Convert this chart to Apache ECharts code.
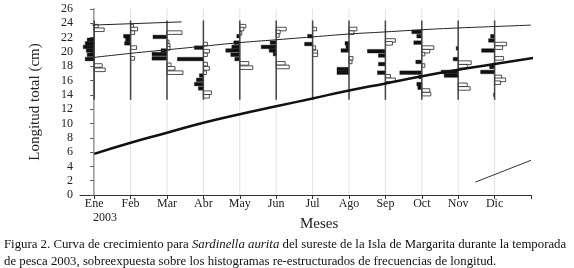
<!DOCTYPE html>
<html>
<head>
<meta charset="utf-8">
<script src="https://cdn.jsdelivr.net/npm/echarts@6/dist/echarts.min.js"></script>
<style>
  html, body { margin: 0; padding: 0; background: #fff; }
  #chart { width: 574px; height: 268px; }
</style>
</head>
<body>
<div id="chart"></div>
<script>
// meses (x = índice del mes, Ene = 0)
const months = ["Ene", "Feb", "Mar", "Abr", "May", "Jun", "Jul", "Ago", "Sep", "Oct", "Nov", "Dic"];
const monthTicks = [0, 1, 2, 3, 4, 5, 6, 7, 8, 9, 10, 11, 12];

// histogramas re-estructurados: [mes, centro de clase (cm), frecuencia]
// negros (picos, hacia la izquierda)
const blackBins = [
  [0, 21.7, 7], [0, 21.2, 9], [0, 20.7, 11], [0, 20.2, 8], [0, 19.6, 7], [0, 19.0, 9],
  [1, 22.2, 7], [1, 21.7, 5], [1, 21.2, 6],
  [2, 22.1, 14], [2, 20.2, 6], [2, 19.7, 15], [2, 19.1, 15],
  [3, 20.6, 9], [3, 19.0, 26], [3, 16.7, 4], [3, 16.1, 7], [3, 15.5, 9], [3, 14.9, 5],
  [4, 22.2, 3], [4, 21.3, 6], [4, 20.7, 8], [4, 20.2, 14], [4, 19.6, 9], [4, 19.0, 5],
  [5, 21.3, 6], [5, 20.7, 15], [5, 20.2, 7], [5, 19.7, 3],
  [6, 22.2, 5], [6, 21.1, 8],
  [7, 21.2, 4], [7, 20.7, 3], [7, 20.2, 8], [7, 17.6, 12], [7, 17.1, 12],
  [8, 20.1, 18], [8, 19.5, 7], [8, 18.3, 7], [8, 17.1, 8],
  [9, 22.8, 10], [9, 22.2, 5], [9, 21.3, 8], [9, 18.6, 6], [9, 17.1, 22], [9, 16.5, 3], [9, 15.5, 5], [9, 15.0, 4],
  [10, 20.5, 2], [10, 19.0, 5], [10, 17.2, 17], [10, 16.7, 14],
  [11, 22.2, 4], [11, 21.6, 6], [11, 20.2, 13], [11, 17.9, 5], [11, 17.2, 14], [11, 14.0, 1]
];
// blancos (hacia la derecha)
const whiteBins = [
  [0, 23.6, 4], [0, 23.1, 10], [0, 18.1, 8], [0, 17.5, 11],
  [1, 23.6, 3], [1, 23.2, 7], [1, 22.7, 4], [1, 20.6, 6], [1, 19.1, 4],
  [2, 22.7, 15], [2, 21.4, 2], [2, 20.9, 3], [2, 20.5, 3], [2, 18.2, 4], [2, 17.7, 8], [2, 17.1, 16],
  [3, 21.1, 4], [3, 20.1, 6], [3, 19.6, 4], [3, 18.3, 4], [3, 17.7, 6], [3, 17.1, 3], [3, 14.3, 8], [3, 13.8, 6],
  [4, 23.6, 6], [4, 23.2, 4], [4, 22.6, 2], [4, 18.4, 9], [4, 17.8, 13],
  [5, 23.2, 10], [5, 22.8, 4], [5, 22.3, 3], [5, 18.4, 9], [5, 17.9, 13],
  [6, 23.2, 4], [6, 20.6, 3], [6, 20.0, 5], [6, 19.6, 5],
  [7, 23.2, 8], [7, 22.7, 5], [7, 19.1, 4], [7, 18.6, 3],
  [8, 21.6, 10], [8, 21.2, 7], [8, 16.6, 5], [8, 16.1, 10],
  [9, 20.6, 12], [9, 20.1, 8], [9, 19.7, 3], [9, 18.1, 3], [9, 14.6, 8], [9, 14.1, 9],
  [10, 18.5, 13], [10, 18.0, 9], [10, 15.4, 9], [10, 14.9, 12],
  [11, 21.1, 12], [11, 20.6, 8], [11, 19.1, 9], [11, 16.5, 7], [11, 16.1, 11], [11, 15.7, 6]
];
// extremos de la línea base de cada histograma (cm)
const baseFrom = 13.3;
const baseTo = 24.4;

// curvas de crecimiento: [mes, longitud (cm)]
const growthMain = [[0, 5.75], [1, 7.3], [2, 8.7], [3, 10.1], [4, 11.3], [5, 12.4], [6, 13.5],
  [7, 14.6], [8, 15.6], [9, 16.6], [10, 17.5], [11, 18.3], [12.1, 19.2]];
const growthUpper = [[-0.15, 19.15], [1, 19.8], [2, 20.3], [3, 20.8], [4, 21.3], [5, 21.7], [6, 22.1],
  [7, 22.5], [8, 22.8], [9, 23.1], [10, 23.35], [11, 23.55], [12, 23.75]];
const growthTop = [[-0.05, 23.75], [2.4, 24.2]];
const growthBottom = [[10.47, 1.8], [12, 4.85]];

const BIN = 0.5;           // alto de clase (cm)
const FREQ_UNIT = 1 / 36.4; // frecuencia -> fracción de mes
const serif = "Liberation Serif";

const chart = echarts.init(document.getElementById("chart"));

function histItem(side) {
  return function (params, api) {
    const m = api.value(0), c = api.value(1), f = api.value(2);
    const a = api.coord([m, c + BIN / 2]);
    const b = api.coord([m + side * f * FREQ_UNIT, c - BIN / 2]);
    return {
      type: "rect",
      shape: { x: Math.min(a[0], b[0]), y: a[1], width: Math.abs(b[0] - a[0]), height: b[1] - a[1] },
      style: side < 0
        ? { fill: "#111", stroke: "#111", lineWidth: 0.4 }
        : { fill: "#fff", stroke: "#222", lineWidth: 0.8 }
    };
  };
}

chart.setOption({
  animation: false,
  grid: { left: 80, right: 43, top: 9, bottom: 73 },
  xAxis: {
    type: "value", min: -0.39, max: 12,
    axisLine: { lineStyle: { color: "#333", width: 1.2 } },
    axisTick: { customValues: monthTicks, length: 4, lineStyle: { color: "#333" } },
    axisLabel: {
      customValues: monthTicks.slice(0, 12),
      formatter: v => months[v],
      fontFamily: serif, fontSize: 12, color: "#222", margin: 3
    },
    splitLine: { show: false }
  },
  yAxis: {
    type: "value", min: 0, max: 26, interval: 2,
    name: "Longitud total (cm)", nameLocation: "middle", nameGap: 37,
    nameTextStyle: { fontFamily: serif, fontSize: 15, color: "#222" },
    axisLine: { show: true, lineStyle: { color: "#555", width: 1.5 } },
    axisTick: { show: true, length: 4, lineStyle: { color: "#555" } },
    axisLabel: { fontFamily: serif, fontSize: 12, color: "#222", margin: 7 },
    splitLine: { show: false }
  },
  series: [
    {
      type: "custom", z: 1, silent: true,
      data: monthTicks.slice(0, 12).map(m => [m]),
      renderItem: (params, api) => {
        const a = api.coord([api.value(0), 0]);
        const b = api.coord([api.value(0), 26]);
        return { type: "line", shape: { x1: a[0], y1: a[1], x2: b[0], y2: b[1] },
          style: { stroke: "#e2e2e2", lineWidth: 1 } };
      }
    },
    {
      type: "custom", z: 3, silent: true,
      data: monthTicks.slice(0, 12).map(m => [m, baseFrom, baseTo]),
      renderItem: (params, api) => {
        const a = api.coord([api.value(0), api.value(1)]);
        const b = api.coord([api.value(0), api.value(2)]);
        return { type: "line", shape: { x1: a[0], y1: a[1], x2: b[0], y2: b[1] },
          style: { stroke: "#444", lineWidth: 1.5 } };
      }
    },
    { type: "custom", z: 2, silent: true, data: blackBins, renderItem: histItem(-1) },
    { type: "custom", z: 2, silent: true, data: whiteBins, renderItem: histItem(1) },
    { type: "line", z: 4, data: growthMain, smooth: true, showSymbol: false,
      lineStyle: { color: "#111", width: 2.5 } },
    { type: "line", z: 4, data: growthUpper, smooth: true, showSymbol: false,
      lineStyle: { color: "#222", width: 1 } },
    { type: "line", z: 4, data: growthTop, showSymbol: false,
      lineStyle: { color: "#222", width: 1 } },
    { type: "line", z: 4, data: growthBottom, showSymbol: false,
      lineStyle: { color: "#333", width: 1 } }
  ],
  graphic: [
    { type: "text", left: 93, top: 212,
      style: { text: "2003", font: "12px 'Liberation Serif'", fill: "#222" } },
    { type: "text", left: 300, top: 217,
      style: { text: "Meses", font: "15px 'Liberation Serif'", fill: "#222" } },
    { type: "text", left: 4, top: 238,
      style: {
        text: "Figura 2. Curva de crecimiento para {i|Sardinella aurita} del sureste de la Isla de Margarita durante la temporada",
        font: "12.8px 'Liberation Serif'", fill: "#111",
        rich: { i: { fontFamily: serif, fontStyle: "italic", fontSize: 12.8, fill: "#111" } }
      } },
    { type: "text", left: 4, top: 255,
      style: {
        text: "de pesca 2003, sobreexpuesta sobre los histogramas re-estructurados de frecuencias de longitud.",
        font: "12.8px 'Liberation Serif'", fill: "#111"
      } }
  ]
});
</script>
</body>
</html>
